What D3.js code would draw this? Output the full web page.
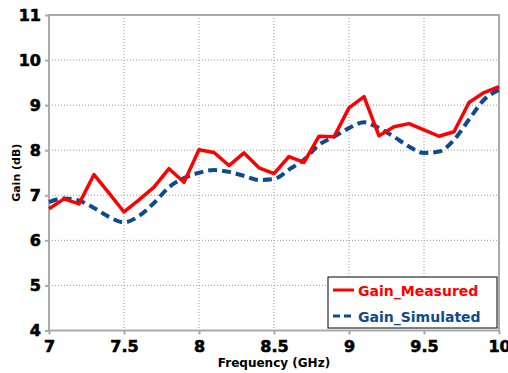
<!DOCTYPE html>
<html>
<head>
<meta charset="utf-8">
<script src="https://cdn.jsdelivr.net/npm/d3@7"></script>
<style>
  body { margin: 0; background: #fff; }
  text { font-family: "DejaVu Sans", Verdana, sans-serif; font-weight: bold; }
</style>
</head>
<body>
<div id="chart"></div>
<script>
// frequency points (GHz)
const freqs = [7.0, 7.1, 7.2, 7.3, 7.4, 7.5, 7.6, 7.7, 7.8, 7.9, 8.0, 8.1, 8.2, 8.3, 8.4, 8.5,
               8.6, 8.7, 8.8, 8.9, 9.0, 9.1, 9.2, 9.3, 9.4, 9.5, 9.6, 9.7, 9.8, 9.9, 10.0]
const gainMeasured = [6.70, 6.92, 6.81, 7.46, 7.05, 6.63, 6.90, 7.18, 7.59, 7.29, 8.01, 7.95, 7.66, 7.94, 7.61, 7.48,
                      7.86, 7.73, 8.31, 8.30, 8.94, 9.19, 8.32, 8.52, 8.59, 8.45, 8.31, 8.41, 9.06, 9.28, 9.41]
const gainSimulated = [6.85, 6.93, 6.88, 6.72, 6.52, 6.40, 6.54, 6.83, 7.18, 7.38, 7.50, 7.56, 7.52, 7.43, 7.34, 7.36,
                       7.57, 7.79, 8.12, 8.30, 8.49, 8.62, 8.49, 8.30, 8.08, 7.94, 7.97, 8.23, 8.68, 9.12, 9.34]
const xTicks = [7, 7.5, 8, 8.5, 9, 9.5, 10]
const yTicks = [4, 5, 6, 7, 8, 9, 10, 11]
const seriesNames = ["Gain_Measured", "Gain_Simulated"]

const width = 508
const height = 373
const plotLeft = 49, plotRight = 499, plotTop = 15, plotBottom = 330.5

const x = d3.scaleLinear().domain([7, 10]).range([plotLeft, plotRight])
const y = d3.scaleLinear().domain([4, 11]).range([plotBottom, plotTop])

const svg = d3.select("#chart").append("svg")
  .attr("width", width)
  .attr("height", height)

// dotted grid
svg.append("g")
  .selectAll("line")
  .data(xTicks.slice(1, -1))
  .join("line")
  .attr("x1", d => x(d)).attr("x2", d => x(d))
  .attr("y1", plotTop).attr("y2", plotBottom)
  .attr("stroke", "#999").attr("stroke-width", 1).attr("stroke-dasharray", "1,2")

svg.append("g")
  .selectAll("line")
  .data(yTicks.slice(1, -1))
  .join("line")
  .attr("x1", plotLeft).attr("x2", plotRight)
  .attr("y1", d => y(d)).attr("y2", d => y(d))
  .attr("stroke", "#999").attr("stroke-width", 1).attr("stroke-dasharray", "1,2")

// frame
svg.append("rect")
  .attr("x", plotLeft).attr("y", plotTop)
  .attr("width", plotRight - plotLeft).attr("height", plotBottom - plotTop)
  .attr("fill", "none").attr("stroke", "#aaa").attr("stroke-width", 2)

// axes
const xAxis = d3.axisBottom(x).tickValues(xTicks).tickSize(4).tickPadding(6).tickFormat(d3.format("~g"))
const gx = svg.append("g")
  .attr("transform", "translate(0," + plotBottom + ")")
  .call(xAxis)
gx.select(".domain").remove()
gx.selectAll("line").attr("stroke", "#aaa").attr("stroke-width", 2)
gx.selectAll("text").attr("font-size", 16).attr("font-weight", "bold").attr("fill", "#000")
  .attr("stroke", "#000").attr("stroke-width", 0.6)
  .attr("font-family", "DejaVu Sans")

const yAxis = d3.axisLeft(y).tickValues(yTicks).tickSize(4).tickPadding(4).tickFormat(d3.format("d"))
const gy = svg.append("g")
  .attr("transform", "translate(" + plotLeft + ",0)")
  .call(yAxis)
gy.select(".domain").remove()
gy.selectAll("line").attr("stroke", "#aaa").attr("stroke-width", 2)
gy.selectAll("text").attr("font-size", 16).attr("font-weight", "bold").attr("fill", "#000")
  .attr("stroke", "#000").attr("stroke-width", 0.6)
  .attr("font-family", "DejaVu Sans")

// axis titles
svg.append("text")
  .attr("x", (plotLeft + plotRight) / 2).attr("y", 367)
  .attr("text-anchor", "middle").attr("font-size", 12)
  .text("Frequency (GHz)")

svg.append("text")
  .attr("transform", "translate(20," + ((plotTop + plotBottom) / 2) + ") rotate(-90)")
  .attr("text-anchor", "middle").attr("font-size", 11)
  .text("Gain (dB)")

// lines
const measuredLine = d3.line()
  .x((d, i) => x(freqs[i]))
  .y(d => y(d))

const simLine = d3.line()
  .x((d, i) => x(freqs[i]))
  .y(d => y(d))
  .curve(d3.curveMonotoneX)

svg.append("path")
  .datum(gainSimulated)
  .attr("d", simLine)
  .attr("fill", "none").attr("stroke", "#0e4a8c").attr("stroke-width", 4)
  .attr("stroke-dasharray", "9,5")

svg.append("path")
  .datum(gainMeasured)
  .attr("d", measuredLine)
  .attr("fill", "none").attr("stroke", "#ff0000").attr("stroke-width", 3.5)
  .attr("stroke-linejoin", "round")

// legend
const legend = svg.append("g")
legend.append("rect")
  .attr("x", 328).attr("y", 277).attr("width", 169).attr("height", 51)
  .attr("fill", "#fff").attr("stroke", "#000").attr("stroke-width", 1)

const legendColors = ["#ff0000", "#0e4a8c"]
const legendDash = [null, "7,4"]
seriesNames.forEach((name, i) => {
  const ly = 290 + i * 26
  legend.append("line")
    .attr("x1", 333).attr("x2", 354).attr("y1", ly).attr("y2", ly)
    .attr("stroke", legendColors[i]).attr("stroke-width", 3)
    .attr("stroke-dasharray", legendDash[i])
  legend.append("text")
    .attr("x", 358).attr("y", ly + 6)
    .attr("font-size", 14).attr("fill", legendColors[i])
    .text(name)
})
</script>
</body>
</html>
